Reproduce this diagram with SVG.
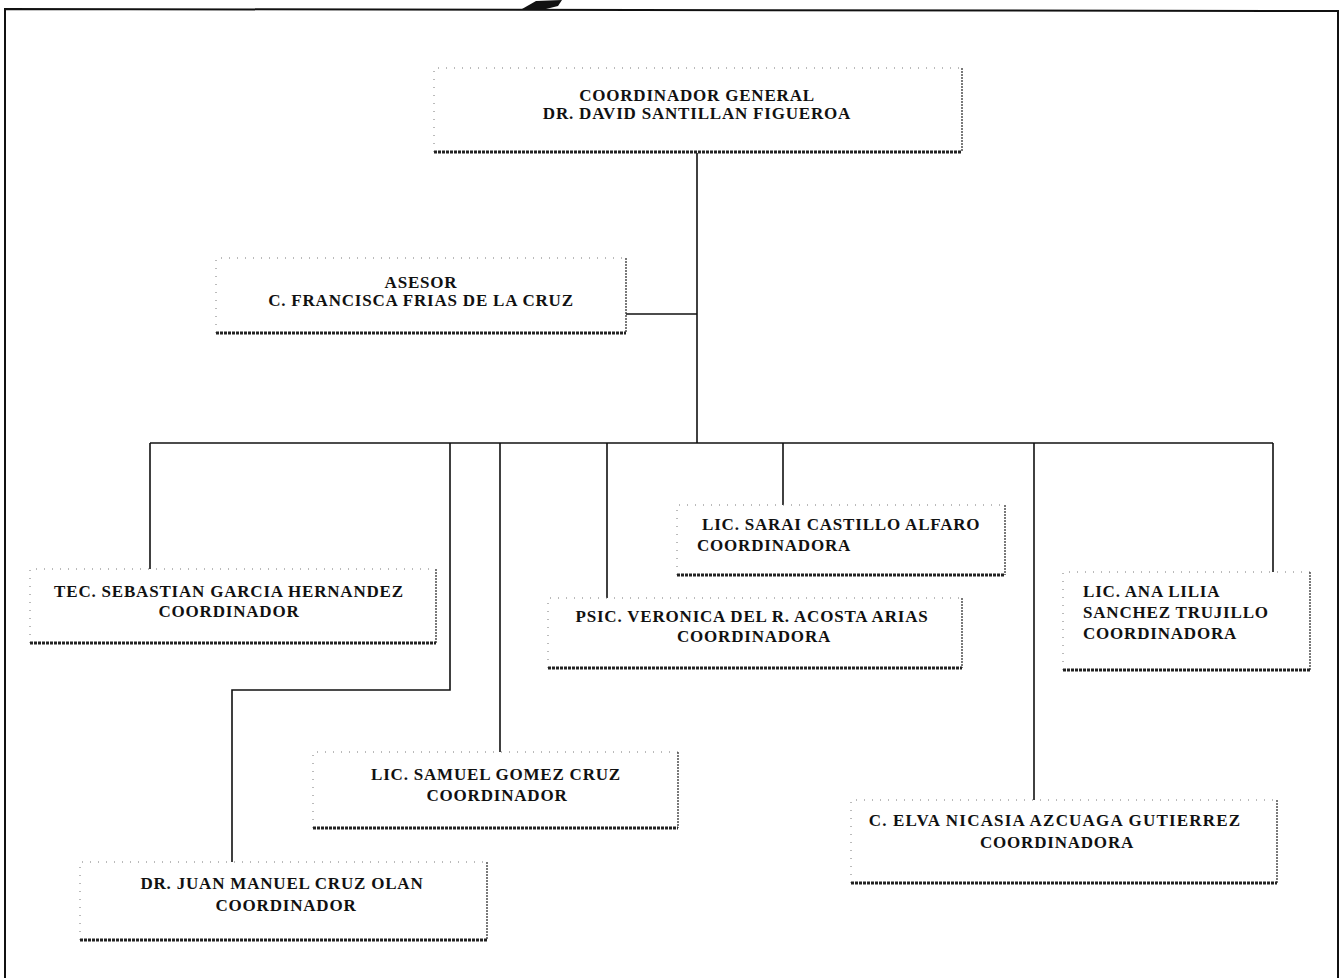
<svg xmlns="http://www.w3.org/2000/svg" width="1341" height="978" viewBox="0 0 1341 978">
<style>
.dot{fill:none;stroke:#777;stroke-width:1;stroke-dasharray:1 7}
.rt{fill:none;stroke:#333;stroke-width:1.3;stroke-dasharray:2 1}
.bt{fill:none;stroke:#222;stroke-width:3;stroke-dasharray:3 1}
.lbl{font-family:"Liberation Serif","Times New Roman",serif;font-weight:bold;font-size:17px;letter-spacing:0.8px;fill:#111}
.c{text-anchor:middle}
.conn{fill:none;stroke:#111;stroke-width:1.6}
.frame{fill:none;stroke:#111;stroke-width:2}
</style>
<rect width="1341" height="978" fill="#fff"/>
<g id="frame">
<path class="frame" d="M5 978 L5 9 L1338 11 L1338 978"/>
<path d="M522 9 L536 1 L562 0 L558 6 L542 10 Z" fill="#111"/>
</g>
<g id="connectors">
<path class="conn" d="M697 153 V443"/>
<path class="conn" d="M626 314 H697"/>
<path class="conn" d="M150 443 H1273"/>
<path class="conn" d="M150 443 V569"/>
<path class="conn" d="M450 443 V690 H232 V862"/>
<path class="conn" d="M500 443 V752"/>
<path class="conn" d="M607 443 V598"/>
<path class="conn" d="M783 443 V505"/>
<path class="conn" d="M1034 443 V800"/>
<path class="conn" d="M1273 443 V572"/>
</g>
<g id="coordinador-general">
<path class="dot" d="M434 152 V68 H962"/>
<path class="rt" d="M962 68 V152"/>
<path class="bt" d="M434 152 H962"/>
<text class="lbl c" x="697" y="101">COORDINADOR GENERAL</text>
<text class="lbl c" x="697" y="119">DR. DAVID SANTILLAN FIGUEROA</text>
</g>
<g id="asesor">
<path class="dot" d="M216 333 V258 H626"/>
<path class="rt" d="M626 258 V333"/>
<path class="bt" d="M216 333 H626"/>
<text class="lbl c" x="421" y="288">ASESOR</text>
<text class="lbl c" x="421" y="306">C. FRANCISCA FRIAS DE LA CRUZ</text>
</g>
<g id="sebastian">
<path class="dot" d="M30 643 V569 H436"/>
<path class="rt" d="M436 569 V643"/>
<path class="bt" d="M30 643 H436"/>
<text class="lbl c" x="229" y="597">TEC. SEBASTIAN  GARCIA HERNANDEZ</text>
<text class="lbl c" x="229" y="617">COORDINADOR</text>
</g>
<g id="sarai">
<path class="dot" d="M677 575 V505 H1005"/>
<path class="rt" d="M1005 505 V575"/>
<path class="bt" d="M677 575 H1005"/>
<text class="lbl" x="702" y="530">LIC. SARAI CASTILLO ALFARO</text>
<text class="lbl" x="697" y="551">COORDINADORA</text>
</g>
<g id="veronica">
<path class="dot" d="M548 668 V598 H962"/>
<path class="rt" d="M962 598 V668"/>
<path class="bt" d="M548 668 H962"/>
<text class="lbl c" x="752" y="622">PSIC. VERONICA DEL R.  ACOSTA ARIAS</text>
<text class="lbl c" x="754" y="642">COORDINADORA</text>
</g>
<g id="ana-lilia">
<path class="dot" d="M1063 670 V572 H1310"/>
<path class="rt" d="M1310 572 V670"/>
<path class="bt" d="M1063 670 H1310"/>
<text class="lbl" x="1083" y="597">LIC. ANA LILIA</text>
<text class="lbl" x="1083" y="618">SANCHEZ  TRUJILLO</text>
<text class="lbl" x="1083" y="639">COORDINADORA</text>
</g>
<g id="samuel">
<path class="dot" d="M313 828 V752 H678"/>
<path class="rt" d="M678 752 V828"/>
<path class="bt" d="M313 828 H678"/>
<text class="lbl c" x="496" y="780">LIC. SAMUEL GOMEZ CRUZ</text>
<text class="lbl c" x="497" y="801">COORDINADOR</text>
</g>
<g id="elva">
<path class="dot" d="M851 883 V800 H1277"/>
<path class="rt" d="M1277 800 V883"/>
<path class="bt" d="M851 883 H1277"/>
<text class="lbl c" x="1055" y="826" style="letter-spacing:1.2px">C. ELVA NICASIA  AZCUAGA GUTIERREZ</text>
<text class="lbl c" x="1057" y="848">COORDINADORA</text>
</g>
<g id="juan-manuel">
<path class="dot" d="M80 940 V862 H487"/>
<path class="rt" d="M487 862 V940"/>
<path class="bt" d="M80 940 H487"/>
<text class="lbl c" x="282" y="889">DR. JUAN MANUEL  CRUZ OLAN</text>
<text class="lbl c" x="286" y="911">COORDINADOR</text>
</g>
</svg>
